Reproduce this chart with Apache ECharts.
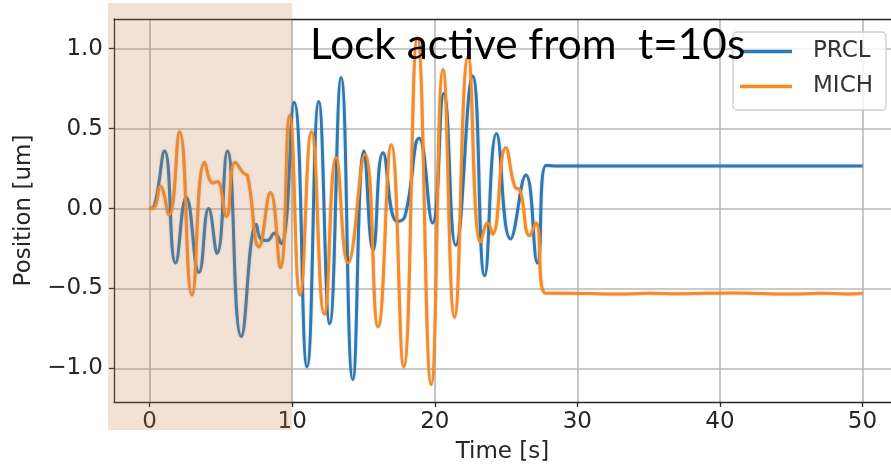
<!DOCTYPE html>
<html>
<head>
<meta charset="utf-8">
<script src="https://cdn.jsdelivr.net/npm/echarts@6/dist/echarts.min.js"></script>
<style>
html,body{margin:0;padding:0;background:#ffffff;}
#chart{width:891px;height:469px;}
</style>
</head>
<body>
<div id="chart"></div>
<script>
// ---- data ----
const seriesNames = ['PRCL', 'MICH'];

const prclTime = [0, 0.35, 1.05, 1.82, 2.57, 3.46, 4.14, 4.73, 5.45, 6.43, 7.49, 7.8, 8.25, 8.75, 9.22,
  10.13, 11.04, 11.86, 12.63, 13.43, 14.25, 15.04, 15.67, 16.37, 17.35, 17.9, 18.9, 19.84, 20.63,
  21.47, 22.65, 23.5, 24.33, 25.31, 26.39, 27.2, 27.8, 28.4, 32, 36, 40, 44, 48, 50];
const prclValues = [0, 0.02, 0.36, -0.34, 0.07, -0.40, 0.0, -0.28, 0.36, -0.80, -0.10, -0.19, -0.20, -0.155, -0.22,
  0.665, -0.99, 0.67, -0.72, 0.82, -1.07, 0.36, -0.26, 0.35, -0.08, -0.05, 0.44, -0.09, 0.72,
  -0.23, 0.83, -0.42, 0.47, -0.19, 0.21, -0.34, 0.27, 0.267, 0.267, 0.267, 0.267, 0.267, 0.267, 0.267];

const michTime = [0, 0.35, 0.75, 1.36, 2.1, 2.97, 3.86, 4.44, 4.75, 5.38, 6.0, 6.6, 6.85, 7.67, 8.47,
  9.17, 9.82, 10.55, 11.35, 12.25, 13.08, 13.92, 15.1, 16.02, 16.95, 17.82, 18.78, 19.75, 20.58,
  21.38, 22.34, 23.22, 23.72, 24.05, 24.98, 25.65, 25.95, 26.65, 27.1, 27.78, 29, 31, 33, 35, 37,
  39, 41, 43, 45, 47, 49, 50];
const michValues = [0, 0.01, 0.14, -0.04, 0.48, -0.54, 0.29, 0.16, 0.17, -0.05, 0.29, 0.22, 0.21, -0.24, 0.10,
  -0.37, 0.58, -0.54, 0.48, -0.66, 0.32, -0.34, 0.34, -0.74, 0.40, -0.99, 1.07, -1.10, 0.87,
  -0.68, 0.95, -0.21, -0.09, -0.16, 0.38, 0.13, 0.12, -0.17, -0.09, -0.53, -0.53, -0.532, -0.535, -0.53, -0.533,
  -0.53, -0.528, -0.532, -0.535, -0.53, -0.534, -0.532];

const xTicks = [0, 10, 20, 30, 40, 50];
const yTicks = [-1.0, -0.5, 0.0, 0.5, 1.0];
const xRange = [-2.5, 52.0];   // the reference is cropped at the right
const yRange = [-1.21, 1.186];
const xAxisName = 'Time [s]';
const yAxisName = 'Position [um]';
const annotationText = 'Lock active from  t=10s';
const lockStart = 10;

// ---- chart ----
const zip = (a, b) => a.map((t, i) => [t, b[i]]);
const textColor = '#262626';
const gridColor = '#b8b8b8';
const spineColor = '#262626';
const fmtY = v => (v < 0 ? '\u2212' : '') + Math.abs(v).toFixed(1);

const chart = echarts.init(document.getElementById('chart'), null, {renderer: 'canvas'});

const option = {
  animation: false,
  backgroundColor: '#ffffff',
  grid: {
    left: 114, top: 19, width: 777, height: 383,
    show: false, outerBoundsMode: 'none'
  },
  xAxis: [
    {
      type: 'value', min: xRange[0], max: xRange[1],
      axisLine: {show: true, onZero: false, lineStyle: {color: spineColor, width: 1.3}},
      axisTick: {show: true, customValues: xTicks, length: 5, lineStyle: {color: spineColor, width: 1.3}},
      axisLabel: {customValues: xTicks, fontFamily: 'DejaVu Sans', fontSize: 23, color: textColor, margin: 9},
      splitLine: {show: true, lineStyle: {color: gridColor, width: 1.6}},
      name: xAxisName, nameLocation: 'middle', nameGap: 39,
      nameTextStyle: {fontFamily: 'DejaVu Sans', fontSize: 23, color: textColor}
    },
    {
      type: 'value', position: 'top', min: xRange[0], max: xRange[1],
      axisLine: {show: true, onZero: false, lineStyle: {color: spineColor, width: 1.3}},
      axisTick: {show: false}, axisLabel: {show: false}, splitLine: {show: false}
    }
  ],
  yAxis: {
    type: 'value', min: yRange[0], max: yRange[1],
    axisLine: {show: true, onZero: false, lineStyle: {color: spineColor, width: 1.3}},
    axisTick: {show: true, customValues: yTicks, length: 5, lineStyle: {color: spineColor, width: 1.3}},
    axisLabel: {customValues: yTicks, formatter: fmtY, fontFamily: 'DejaVu Sans', fontSize: 23, color: textColor, margin: 11},
    splitLine: {show: true, lineStyle: {color: gridColor, width: 1.6}},
    name: yAxisName, nameLocation: 'middle', nameGap: 78, nameRotate: 90,
    nameTextStyle: {fontFamily: 'DejaVu Sans', fontSize: 23, color: textColor}
  },
  legend: {
    data: seriesNames, orient: 'vertical', left: 733, top: 32,
    icon: 'rect', itemWidth: 52, itemHeight: 3.5, itemGap: 12,
    padding: [8, 13, 12, 7],
    borderColor: '#cccccc', borderWidth: 1.3, borderRadius: 4,
    backgroundColor: 'rgba(255,255,255,0.8)',
    textStyle: {fontFamily: 'DejaVu Sans', fontSize: 23, color: '#333333', lineHeight: 23, padding: [0, 0, 0, 16]}
  },
  series: [
    {
      name: seriesNames[0], type: 'line', data: zip(prclTime, prclValues),
      smooth: 0.5, showSymbol: false, color: '#2a7ab8',
      lineStyle: {width: 3, color: '#2a7ab8', shadowColor: 'rgba(0,0,0,0.25)', shadowBlur: 2}
    },
    {
      name: seriesNames[1], type: 'line', data: zip(michTime, michValues),
      smooth: 0.5, showSymbol: false, color: '#fb8a1f',
      lineStyle: {width: 3, color: '#fb8a1f', shadowColor: 'rgba(0,0,0,0.25)', shadowBlur: 2}
    }
  ]
};
chart.setOption(option);

const xLock = chart.convertToPixel({xAxisIndex: 0}, lockStart);
chart.setOption({
  graphic: [
    {
      type: 'rect', z: 100, silent: true,
      shape: {x: 108, y: 3, width: xLock - 108, height: 427},
      style: {fill: 'rgba(200,130,80,0.24)'}
    },
    {
      type: 'text', z: 101, left: 310, top: 24, silent: true,
      style: {text: annotationText, font: '42.3px Lato', fill: '#000000'}
    }
  ]
});
</script>
</body>
</html>
